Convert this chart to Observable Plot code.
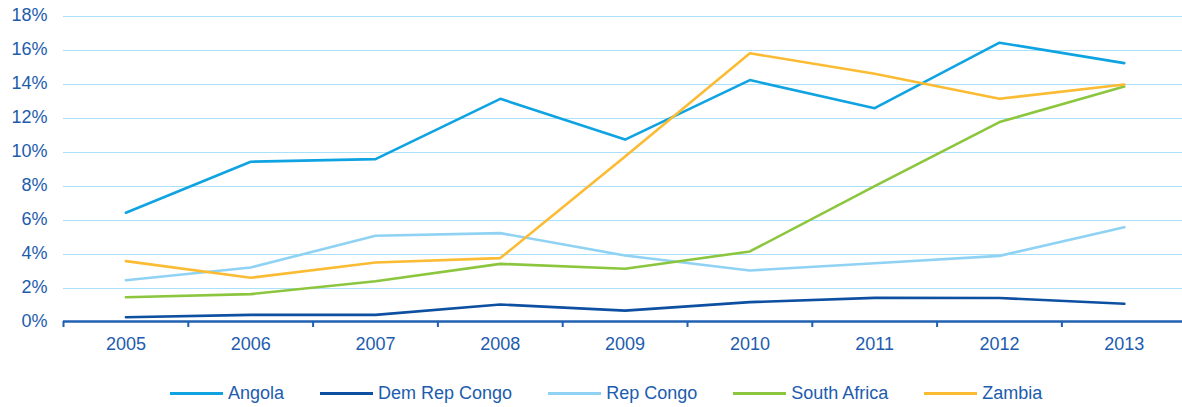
<!DOCTYPE html>
<html>
<head>
<meta charset="utf-8">
<script src="https://cdn.jsdelivr.net/npm/d3@7"></script>
<script src="https://cdn.jsdelivr.net/npm/@observablehq/plot@0.6"></script>
<style>
  html, body { margin: 0; padding: 0; background: #fff; }
  body { width: 1182px; height: 407px; overflow: hidden; font-family: "Liberation Sans", Arial, sans-serif; }
  #legend { display: flex; align-items: center; height: 36px; padding-left: 170px; gap: 36px; font-size: 18px; color: #1d5cae; }
  .item { display: flex; align-items: center; gap: 5px; }
  .sw { width: 53px; height: 3px; }
</style>
</head>
<body>
<div id="chart"></div>
<div id="legend"></div>
<script>
const years = [2005, 2006, 2007, 2008, 2009, 2010, 2011, 2012, 2013];
const angola      = [6.4, 9.4, 9.55, 13.1, 10.7, 14.2, 12.55, 16.4, 15.2];
const demRepCongo = [0.25, 0.39, 0.39, 1.0, 0.64, 1.14, 1.39, 1.38, 1.04];
const repCongo    = [2.43, 3.18, 5.04, 5.2, 3.88, 3.0, 3.43, 3.86, 5.55];
const southAfrica = [1.43, 1.61, 2.37, 3.39, 3.1, 4.12, 7.96, 11.73, 13.82];
const zambia      = [3.55, 2.57, 3.47, 3.73, 9.7, 15.78, 14.57, 13.1, 13.94];
const seriesNames = ["Angola", "Dem Rep Congo", "Rep Congo", "South Africa", "Zambia"];
const seriesValues = [angola, demRepCongo, repCongo, southAfrica, zambia];
const colors = ["#0fa3e2", "#0d4fa0", "#8fd2f3", "#8cc63e", "#fbbb33"];
const yTicks = [0, 2, 4, 6, 8, 10, 12, 14, 16, 18];

const textColor = "#1d5cae";
const rows = seriesNames.flatMap((name, i) => years.map((year, j) => ({name, year, value: seriesValues[i][j]})));
const boundaries = years.map(y => y - 0.5);
const xDomain = [years[0] - 0.5, years[years.length - 1] + 0.5];

const chart = Plot.plot({
  width: 1182,
  height: 375,
  marginTop: 15,
  marginBottom: 54,
  marginLeft: 63,
  marginRight: 0,
  style: {fontFamily: '"Liberation Sans", Arial, sans-serif', fontSize: "18px", color: textColor, background: "#fff", overflow: "hidden"},
  x: {domain: xDomain, range: [63, 63 + 9 * 124.8], label: null},
  y: {domain: [0, 18], label: null},
  color: {domain: seriesNames, range: colors},
  marks: [
    Plot.ruleY(yTicks.filter(d => d > 0), {x1: xDomain[0], x2: xDomain[1], dy: 0.5, stroke: "#a9e1fa", strokeWidth: 1, shapeRendering: "crispEdges"}),
    Plot.line(rows, {x: "year", y: "value", z: "name", stroke: "name", strokeWidth: 2.6, curve: "linear"}),
    Plot.ruleY([0], {x1: xDomain[0], x2: xDomain[1], stroke: "#2160b3", strokeWidth: 2.5}),
    Plot.axisX({ticks: boundaries, tickSize: 6, tickFormat: () => "", stroke: "#2160b3", strokeWidth: 2, label: null}),
    Plot.axisX({ticks: years, tickSize: 0, tickPadding: 16, tickFormat: d => String(d), fill: textColor, fontSize: 18, label: null}),
    Plot.axisY({ticks: yTicks, tickSize: 0, tickPadding: 16, tickFormat: d => d + "%", fill: textColor, fontSize: 18, label: null})
  ]
});
document.getElementById("chart").appendChild(chart);

const legend = document.getElementById("legend");
seriesNames.forEach((name, i) => {
  const item = document.createElement("div");
  item.className = "item";
  const sw = document.createElement("div");
  sw.className = "sw";
  sw.style.background = colors[i];
  const label = document.createElement("span");
  label.textContent = name;
  item.appendChild(sw);
  item.appendChild(label);
  legend.appendChild(item);
});
</script>
</body>
</html>
